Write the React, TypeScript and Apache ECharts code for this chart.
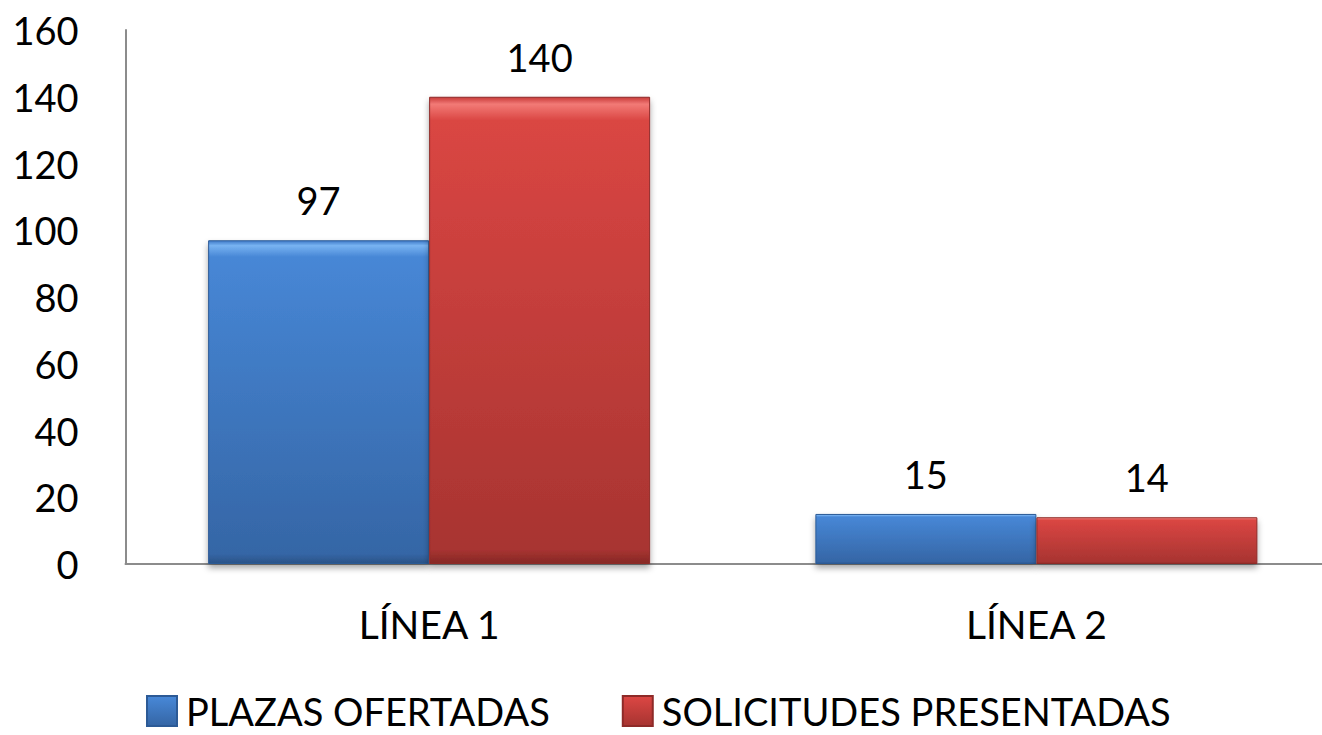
import React, { useEffect, useRef } from "react";
import * as echarts from "echarts";

const categories = ["LÍNEA 1", "LÍNEA 2"];
const plazas = [97, 15];
const solicitudes = [140, 14];
const seriesNames = ["PLAZAS OFERTADAS", "SOLICITUDES PRESENTADAS"];

const FONT = "Lato";

export default function App() {
  const ref = useRef<HTMLDivElement>(null);
  useEffect(() => {
    document.body.style.margin = "0";
    const chart = echarts.init(ref.current!, null, { renderer: "svg" });
    const grad = (top: string, hi: string, mid: string, bot: string, edge: string) =>
      new echarts.graphic.LinearGradient(0, 0, 0, 1, [
        { offset: 0, color: top },
        { offset: 0.015, color: hi },
        { offset: 0.05, color: mid },
        { offset: 0.97, color: bot },
        { offset: 1, color: edge },
      ]);
    const shadow = {
      shadowColor: "rgba(0,0,0,0.35)",
      shadowBlur: 6,
      shadowOffsetY: 4,
    };
    const label = { show: true, position: "top", distance: 21, fontSize: 38, color: "#000", fontFamily: FONT };
    chart.setOption({
      animation: false,
      textStyle: { fontFamily: FONT },
      grid: { left: 125.5, right: 0, top: 30, bottom: 171, containLabel: false },
      legend: {
        top: 692,
        left: 146,
        padding: 0,
        icon: "rect",
        itemWidth: 30,
        itemHeight: 30,
        itemGap: 72,
        textStyle: { fontSize: 38, lineHeight: 36, color: "#000", fontFamily: FONT, padding: [0, 0, 0, 4] },
        data: seriesNames,
      },
      xAxis: {
        type: "category",
        data: categories,
        axisLine: { lineStyle: { color: "#8c8c8c", width: 2 } },
        axisTick: { show: false },
        axisLabel: { fontSize: 39, color: "#000", margin: 40, fontFamily: FONT },
      },
      yAxis: {
        type: "value",
        min: 0,
        max: 160,
        interval: 20,
        axisLine: { show: true, lineStyle: { color: "#8c8c8c", width: 2 } },
        axisTick: { show: false },
        splitLine: { show: false },
        axisLabel: { fontSize: 38, color: "#000", margin: 47, fontFamily: FONT },
      },
      series: [
        {
          name: seriesNames[0],
          type: "bar",
          data: plazas,
          barWidth: 221,
          barGap: "0%",
          itemStyle: {
            color: grad("#3D7AC8", "#78B3F2", "#4787D6", "#3566A6", "#2A5387"),
            borderColor: "#2C5A96",
            borderWidth: 1,
            ...shadow,
          },
          label,
        },
        {
          name: seriesNames[1],
          type: "bar",
          data: solicitudes,
          barWidth: 221,
          barGap: "0%",
          itemStyle: {
            color: grad("#C83C39", "#F27A76", "#DA4643", "#A83431", "#862825"),
            borderColor: "#8E2A28",
            borderWidth: 1,
            ...shadow,
          },
          label,
        },
      ],
    });
    return () => chart.dispose();
  }, []);
  return (
    <div style={{ width: 1322, height: 735, overflow: "hidden" }}>
      <div ref={ref} style={{ width: 1340, height: 735 }} />
    </div>
  );
}
